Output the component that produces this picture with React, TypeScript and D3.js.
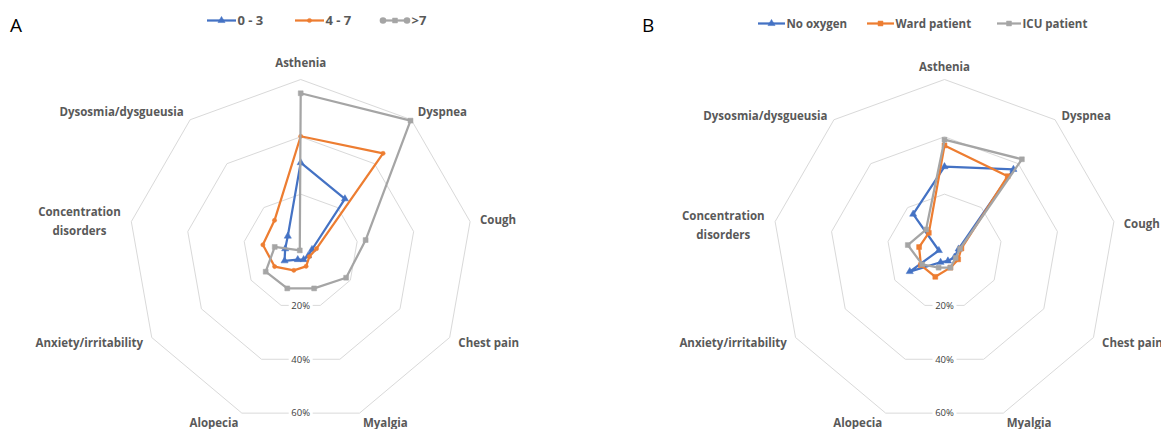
import * as d3 from "d3";

// symptom axes, clockwise from the top
const categories = [
  "Asthenia",
  "Dyspnea",
  "Cough",
  "Chest pain",
  "Myalgia",
  "Alopecia",
  "Anxiety/irritability",
  "Concentration disorders",
  "Dysosmia/dysgueusia",
];
const tickValues = [20, 40, 60];

// panel A: by score
const scoreNames = ["0 - 3", "4 - 7", ">7"];
const score0to3 = [31, 24, 4, 3, 3, 3, 6.5, 5.5, 7];
const score4to7 = [40.2, 44.7, 5.6, 3.5, 5.5, 7, 10.5, 13.4, 14.2];
const scoreOver7 = [55.2, 59.6, 23, 18.3, 13.7, 13.7, 14.1, 9.2, 0.5];

// panel B: by care level
const careNames = ["No oxygen", "Ward patient", "ICU patient"];
const careNoOxygen = [29.6, 37.4, 5, 4, 3.5, 4, 14, 2, 17];
const careWard = [37, 34.3, 6, 5.5, 6, 9.4, 9.5, 9, 8.5];
const careIcu = [39, 42, 5.5, 4.5, 6, 6, 9, 13, 10];

const W = 1161;
const H = 429;
const R = 172;
const font = "'Open Sans', 'Noto Sans', sans-serif";
const textGray = "#595959";
const BLUE = "#4472C4";
const ORANGE = "#ED7D31";
const GRAY = "#A5A5A5";

type Marker = "triangle" | "dot" | "square";
type Series = { name: string; values: number[]; color: string; marker: Marker; legendEnds?: boolean };

const rScale = d3.scaleLinear().domain([0, 60]).range([0, R]);
const angle = d3
  .scaleLinear()
  .domain([0, categories.length])
  .range([0, 2 * Math.PI]);

const radial = d3
  .lineRadial<number>()
  .angle((_, i) => angle(i))
  .radius((d) => rScale(d))
  .curve(d3.curveLinearClosed);

const symbolPath = (m: Marker) => {
  if (m === "triangle") return d3.symbol(d3.symbolTriangle, 22)()!;
  if (m === "square") return d3.symbol(d3.symbolSquare, 24)()!;
  return d3.symbol(d3.symbolCircle, 14)()!;
};

const MarkerShape = ({ m, x, y, color }: { m: Marker; x: number; y: number; color: string }) => (
  <path d={symbolPath(m)} transform={`translate(${x},${y})`} fill={color} stroke={color} strokeWidth={0.5} />
);

type LegendItem = { lineX: number; lineW: number };

const Radar = ({
  cx,
  cy,
  letter,
  letterX,
  series,
  legend,
  legendY,
  legendSize,
  upperShift,
}: {
  cx: number;
  cy: number;
  letter: string;
  letterX: number;
  series: Series[];
  legend: LegendItem[];
  legendY: number;
  legendSize: number;
  upperShift: number;
}) => {
  return (
    <g>
      <text x={letterX} y={32} fontFamily={font} fontSize={19} fill="#000">
        {letter}
      </text>

      {/* legend */}
      {series.map((s, i) => {
        const it = legend[i];
        const mid = it.lineX + it.lineW / 2;
        return (
          <g key={s.name}>
            <line x1={it.lineX} x2={it.lineX + it.lineW} y1={legendY} y2={legendY} stroke={s.color} strokeWidth={2.25} />
            {s.legendEnds && (
              <>
                <circle cx={it.lineX + 3} cy={legendY} r={3.3} fill={s.color} />
                <circle cx={it.lineX + it.lineW - 3} cy={legendY} r={3.3} fill={s.color} />
              </>
            )}
            <MarkerShape m={s.marker} x={mid} y={legendY} color={s.color} />
            <text
              x={it.lineX + it.lineW + 1.5}
              y={legendY}
              dy="0.35em"
              fontFamily={font}
              fontWeight={700}
              fontSize={legendSize}
              fill={textGray}
            >
              {s.name}
            </text>
          </g>
        );
      })}

      <g transform={`translate(${cx},${cy})`}>
        {/* grid rings */}
        {tickValues.map((t) => (
          <path key={t} d={radial(categories.map(() => t))!} fill="none" stroke="#d9d9d9" strokeWidth={1} />
        ))}

        {/* tick labels on the bottom edge of each ring */}
        {tickValues.map((t) => {
          const a = d3.pointRadial(angle(4), rScale(t));
          const b = d3.pointRadial(angle(5), rScale(t));
          const y = (a[1] + b[1]) / 2;
          return (
            <g key={t}>
              <rect x={-12} y={y - 5} width={24} height={10} fill="#fff" />
              <text x={0} y={y} dy="0.35em" textAnchor="middle" fontFamily={font} fontSize={9.5} fill="#404040">
                {t}%
              </text>
            </g>
          );
        })}

        {/* category labels */}
        {categories.map((c, i) => {
          const [x, y0] = d3.pointRadial(angle(i), R + 10);
          const s = Math.sin(angle(i));
          const co = Math.cos(angle(i));
          let anchor = "middle";
          if (s > 0.1) anchor = "start";
          if (s < -0.1) anchor = "end";
          let y = i === 0 ? y0 - 7 : y0;
          if (co > 0) y += upperShift;
          const words = c === "Concentration disorders" ? ["Concentration", "disorders"] : [c];
          if (words.length > 1) {
            return (
              <text key={c} x={x - 42} y={y} textAnchor="middle" fontFamily={font} fontWeight={700} fontSize={11.5} fill={textGray}>
                {words.map((w, k) => (
                  <tspan key={w} x={x - 42} dy={k === 0 ? "-0.3em" : "1.6em"}>
                    {w}
                  </tspan>
                ))}
              </text>
            );
          }
          return (
            <text key={c} x={x} y={y} dy="0.35em" textAnchor={anchor} fontFamily={font} fontWeight={700} fontSize={11.5} fill={textGray}>
              {c}
            </text>
          );
        })}

        {/* series */}
        {series.map((s) => (
          <g key={s.name}>
            <path d={radial(s.values)!} fill="none" stroke={s.color} strokeWidth={2.25} strokeLinejoin="round" />
            {s.values.map((v, i) => {
              const [x, y] = d3.pointRadial(angle(i), rScale(v));
              return <MarkerShape key={i} m={s.marker} x={x} y={y} color={s.color} />;
            })}
          </g>
        ))}
      </g>
    </g>
  );
};

export default function App() {
  const scoreSeries: Series[] = [
    { name: scoreNames[0], values: score0to3, color: BLUE, marker: "triangle" },
    { name: scoreNames[1], values: score4to7, color: ORANGE, marker: "dot" },
    { name: scoreNames[2], values: scoreOver7, color: GRAY, marker: "square", legendEnds: true },
  ];
  const careSeries: Series[] = [
    { name: careNames[0], values: careNoOxygen, color: BLUE, marker: "triangle" },
    { name: careNames[1], values: careWard, color: ORANGE, marker: "square" },
    { name: careNames[2], values: careIcu, color: GRAY, marker: "square" },
  ];

  return (
    <div style={{ position: "absolute", left: 0, top: 0, width: W, height: H, background: "#fff" }}>
      <svg width={W} height={H} style={{ display: "block" }}>
        <rect width={W} height={H} fill="#fff" />
        <Radar
          cx={300.7}
          cy={251.5}
          letter="A"
          letterX={10}
          series={scoreSeries}
          legend={[
            { lineX: 207, lineW: 29 },
            { lineX: 295, lineW: 29 },
            { lineX: 380, lineW: 30 },
          ]}
          legendY={20.5}
          legendSize={13}
          upperShift={0}
        />
        <Radar
          cx={944.5}
          cy={251.5}
          letter="B"
          letterX={642}
          series={careSeries}
          legend={[
            { lineX: 758, lineW: 27 },
            { lineX: 867, lineW: 27 },
            { lineX: 997, lineW: 24 },
          ]}
          legendY={23.5}
          legendSize={11.5}
          upperShift={4}
        />
      </svg>
    </div>
  );
}
